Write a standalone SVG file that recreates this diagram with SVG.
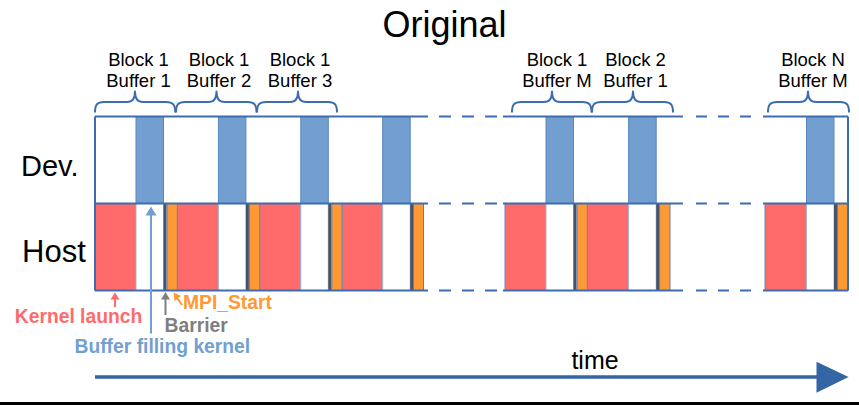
<svg xmlns="http://www.w3.org/2000/svg" width="859" height="407" viewBox="0 0 859 407">
<style>
  text { font-family: "Liberation Sans", Arial, sans-serif; }
  .lbl { font-size: 18.5px; fill: #000; text-anchor: middle; }
  .red { fill: #FF6B6B; stroke: #6A86C0; stroke-width: 1; }
  .hw { fill: #FFFFFF; stroke: #A3B7DA; stroke-width: 1; }
  .bar { fill: #44546A; }
  .org { fill: #FF9933; stroke: #5A7DBE; stroke-width: 1; }
  .blu { fill: #729FCF; stroke: #5A86C2; stroke-width: 1; }
  .frame { stroke: #3D6CB0; stroke-width: 2; fill: none; }
  .brace { stroke: #3D6CB0; stroke-width: 2; fill: none; stroke-linejoin: round; }
  .ann { font-size: 19.3px; font-weight: bold; }
</style>
<rect width="859" height="407" fill="#FFFFFF"/>

<text id="title" x="444.5" y="37" font-size="36" text-anchor="middle" fill="#000">Original</text>
<text id="dev-label" x="21" y="176" font-size="29" fill="#000">Dev.</text>
<text id="host-label" x="22" y="261.5" font-size="31" fill="#000">Host</text>

<g id="seg1">
  <rect class="blu" x="136" y="116.5" width="27.5" height="87"/>
  <rect class="red" x="95" y="203.5" width="41" height="87"/>
  <rect class="hw" x="136" y="203.5" width="27.5" height="87"/>
  <rect class="bar" x="163.5" y="203.5" width="3" height="87"/>
  <rect class="org" x="167" y="203.5" width="10.4" height="87"/>
</g>
<g id="seg2">
  <rect class="blu" x="218.4" y="116.5" width="27.5" height="87"/>
  <rect class="red" x="177.4" y="203.5" width="41" height="87"/>
  <rect class="hw" x="218.4" y="203.5" width="27.5" height="87"/>
  <rect class="bar" x="245.9" y="203.5" width="3" height="87"/>
  <rect class="org" x="249.4" y="203.5" width="10.4" height="87"/>
</g>
<g id="seg3">
  <rect class="blu" x="300.8" y="116.5" width="27.5" height="87"/>
  <rect class="red" x="259.8" y="203.5" width="41" height="87"/>
  <rect class="hw" x="300.8" y="203.5" width="27.5" height="87"/>
  <rect class="bar" x="328.3" y="203.5" width="3" height="87"/>
  <rect class="org" x="331.8" y="203.5" width="10.4" height="87"/>
</g>
<g id="seg4">
  <rect class="blu" x="382.7" y="116.5" width="27.5" height="87"/>
  <rect class="red" x="342.2" y="203.5" width="40.5" height="87"/>
  <rect class="hw" x="382.7" y="203.5" width="27.5" height="87"/>
  <rect class="bar" x="410.2" y="203.5" width="3" height="87"/>
  <rect class="org" x="413.5" y="203.5" width="10" height="87"/>
</g>
<g id="seg5">
  <rect class="blu" x="546" y="116.5" width="27.5" height="87"/>
  <rect class="red" x="505" y="203.5" width="41" height="87"/>
  <rect class="hw" x="546" y="203.5" width="27.5" height="87"/>
  <rect class="bar" x="573.5" y="203.5" width="3" height="87"/>
  <rect class="org" x="577" y="203.5" width="10.4" height="87"/>
</g>
<g id="seg6">
  <rect class="blu" x="628.6" y="116.5" width="27.6" height="87"/>
  <rect class="red" x="587.4" y="203.5" width="41.2" height="87"/>
  <rect class="hw" x="628.6" y="203.5" width="27.6" height="87"/>
  <rect class="bar" x="656.2" y="203.5" width="3" height="87"/>
  <rect class="org" x="659.6" y="203.5" width="10.4" height="87"/>
</g>
<g id="seg7">
  <rect class="blu" x="806.5" y="116.5" width="27.5" height="87"/>
  <rect class="red" x="765" y="203.5" width="41.5" height="87"/>
  <rect class="hw" x="806.5" y="203.5" width="27.5" height="87"/>
  <rect class="bar" x="834" y="203.5" width="3" height="87"/>
  <rect class="org" x="837.5" y="203.5" width="10.5" height="87"/>
</g>

<g id="frame" class="frame">
  <path d="M95,116.5 H428 M503,116.5 H683 M763,116.5 H848"/>
  <path d="M95,203.5 H428 M503,203.5 H683 M763,203.5 H848"/>
  <path d="M95,290.5 H428 M503,290.5 H683 M763,290.5 H848"/>
  <path d="M95,116.5 V290.5 M848,116.5 V290.5"/>
  <path d="M439,116.5 H451 M462,116.5 H474 M485,116.5 H497 M696,116.5 H707 M718,116.5 H729 M740,116.5 H751"/>
  <path d="M439,203.5 H451 M462,203.5 H474 M485,203.5 H497 M696,203.5 H707 M718,203.5 H729 M740,203.5 H751"/>
  <path d="M439,290.5 H451 M462,290.5 H474 M485,290.5 H497 M696,290.5 H707 M718,290.5 H729 M740,290.5 H751"/>
</g>

<g id="brace1">
  <path class="brace" d="M95,112.5 C95,105 97,102 104,102 L127,102 C132,102 135,99 135,91.5 C135,99 138,102 143,102 L166,102 C173,102 175.3,105 175.3,112.5"/>
  <text class="lbl" x="138.5" y="66">Block 1</text>
  <text class="lbl" x="138.5" y="86.5">Buffer 1</text>
</g>
<g id="brace2">
  <path class="brace" d="M176,112.5 C176,105 178,102 185,102 L208.5,102 C213.5,102 216.5,99 216.5,91.5 C216.5,99 219.5,102 224.5,102 L247.5,102 C254.5,102 256.5,105 256.5,112.5"/>
  <text class="lbl" x="219" y="66">Block 1</text>
  <text class="lbl" x="219" y="86.5">Buffer 2</text>
</g>
<g id="brace3">
  <path class="brace" d="M257,112.5 C257,105 259,102 266,102 L290,102 C295,102 298,99 298,91.5 C298,99 301,102 306,102 L328,102 C335,102 337,105 337,112.5"/>
  <text class="lbl" x="300" y="66">Block 1</text>
  <text class="lbl" x="300" y="86.5">Buffer 3</text>
</g>
<g id="brace4">
  <path class="brace" d="M512,112.5 C512,105 514,102 521,102 L544,102 C549,102 552,99 552,91.5 C552,99 555,102 560,102 L582.5,102 C589.5,102 591.5,105 591.5,112.5"/>
  <text class="lbl" x="557" y="66">Block 1</text>
  <text class="lbl" x="557" y="86.5">Buffer M</text>
</g>
<g id="brace5">
  <path class="brace" d="M592,112.5 C592,105 594,102 601,102 L625,102 C630,102 633,99 633,91.5 C633,99 636,102 641,102 L664,102 C671,102 673,105 673,112.5"/>
  <text class="lbl" x="635.5" y="66">Block 2</text>
  <text class="lbl" x="635.5" y="86.5">Buffer 1</text>
</g>
<g id="brace6">
  <path class="brace" d="M768,112.5 C768,105 770,102 777,102 L800,102 C805,102 808,99 808,91.5 C808,99 811,102 816,102 L840,102 C847,102 849,105 849,112.5"/>
  <text class="lbl" x="813" y="66">Block N</text>
  <text class="lbl" x="813" y="86.5">Buffer M</text>
</g>

<g id="connectors">
  <line x1="115" y1="307" x2="115" y2="297" stroke="#FF6B6B" stroke-width="2"/>
  <polygon points="115,292.5 110.5,299.5 119.5,299.5" fill="#FF6B6B"/>
  <line x1="165.5" y1="315" x2="165.5" y2="297" stroke="#7F7F7F" stroke-width="2"/>
  <polygon points="165.5,292 161,299.5 170,299.5" fill="#7F7F7F"/>
  <line x1="182" y1="305" x2="176.5" y2="297" stroke="#FF9933" stroke-width="2"/>
  <polygon points="173.5,292.5 181,296 174.5,301" fill="#FF9933"/>
  <line x1="151" y1="333.5" x2="151" y2="213" stroke="#729FCF" stroke-width="2"/>
  <polygon points="151,206.5 145.5,215.5 156.5,215.5" fill="#729FCF"/>
  <line x1="95" y1="377" x2="818" y2="377" stroke="#3465A4" stroke-width="3.5"/>
  <polygon points="816.5,361.7 848.6,377 816.5,392.7" fill="#3465A4"/>
</g>

<g id="annotations">
  <text class="ann" x="78.5" y="322.7" text-anchor="middle" fill="#FF6B6B">Kernel launch</text>
  <text class="ann" x="164.5" y="331.5" fill="#7F7F7F">Barrier</text>
  <text class="ann" x="183" y="309.3" fill="#FF9933">MPI_Start</text>
  <text class="ann" x="74.5" y="353" fill="#729FCF">Buffer filling kernel</text>
  <text x="595" y="369" font-size="25" text-anchor="middle" fill="#000">time</text>
</g>

<rect x="0" y="402" width="859" height="3" fill="#000"/>
</svg>
